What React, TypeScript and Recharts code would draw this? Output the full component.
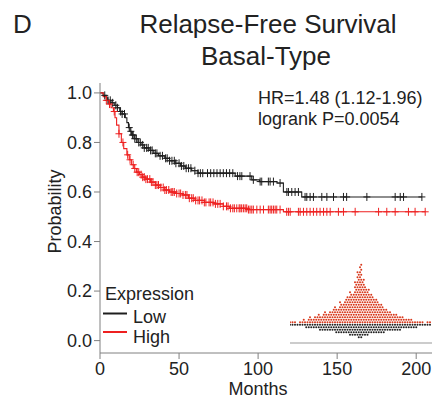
import React from 'react';
import { ComposedChart, ScatterChart, Line, Scatter, XAxis, YAxis, ReferenceLine } from 'recharts';

// Kaplan-Meier steps: [month, survival]
const LOW_STEPS: [number, number][] = [
  [0, 1.0], [2, 0.99], [4, 0.98], [5, 0.97], [7, 0.96], [9, 0.95], [11, 0.94], [12.5, 0.925],
  [14, 0.915], [16, 0.9], [17, 0.88], [18, 0.86], [19, 0.845], [20, 0.83], [22, 0.815], [24, 0.8],
  [26, 0.79], [28, 0.778], [31, 0.768], [34, 0.756], [37, 0.746], [41, 0.736], [44, 0.726],
  [47.5, 0.716], [51, 0.705], [54, 0.696], [58, 0.686], [62, 0.676], [85.5, 0.664], [96, 0.649],
  [101, 0.642], [112, 0.636], [116, 0.6], [127.6, 0.58], [203.6, 0.58],
];

const HIGH_STEPS: [number, number][] = [
  [0, 1.0], [2, 0.985], [4, 0.97], [5.5, 0.955], [7, 0.94], [8.5, 0.925], [9.5, 0.9], [10.5, 0.87],
  [12, 0.835], [13.5, 0.8], [15, 0.775], [17, 0.75], [18.5, 0.73], [20, 0.71], [21.5, 0.695],
  [23, 0.68], [25, 0.67], [27, 0.66], [29, 0.652], [32, 0.64], [35, 0.628], [38, 0.618], [41, 0.608],
  [44, 0.6], [48, 0.594], [52, 0.588], [56, 0.575], [60, 0.566], [66, 0.558], [72, 0.552],
  [78, 0.542], [82, 0.534], [93, 0.529], [116, 0.52], [205.7, 0.52],
];

// censored observations (months)
const LOW_CENSORED = [
  3, 5, 6.5, 8, 10, 11, 13, 14, 15.5, 18.5, 19.5, 20.5, 21, 22, 23, 24.5, 25.5, 27, 28, 29.5, 30.5,
  32, 33, 35, 36, 38, 39.5, 41.5, 42.5, 44, 45.5, 47, 48, 50, 51.5, 53, 54.5, 56, 57.5, 60, 62, 63.5,
  65, 68, 70, 72, 74, 76, 78, 80, 82, 84, 87, 88.5, 89.7, 94.9, 97, 101.3, 102.3, 106.5, 107.6, 109.7,
  113.9, 118.2, 119.2, 121.3, 123.4, 125.5, 129.7, 130.8, 132.9, 135, 140.3, 143.5, 147.7, 154, 156,
  168.8, 186.7, 189.9, 192, 203.6,
];

const HIGH_CENSORED = [
  4, 6, 9, 12, 14.5, 17.5, 19, 21, 22, 23.5, 24.5, 26, 27, 28, 29, 30, 31.5, 32.5, 33.5, 35, 36, 37,
  38.5, 40, 41, 42, 43.5, 45, 46, 47, 48.5, 50, 51, 52.5, 54, 55, 56.5, 58, 59, 60.5, 62, 63, 64.5, 66,
  67, 69, 70, 71.5, 73, 74.5, 76, 78, 80, 81, 82.5, 84, 85, 86.5, 88, 88.6, 89.6, 90.7, 91.8, 92.8,
  93.9, 94.9, 96, 97, 99.2, 101.3, 103.4, 106.5, 107.6, 108.6, 109.7, 110.8, 111.8, 113.9, 118.1,
  119.2, 120.3, 125.5, 126.6, 128.7, 130.8, 132.9, 135, 137.1, 139.2, 141.4, 143.5, 145.6, 150.8, 154,
  161.4, 176.2, 181.4, 186.7, 195.1, 199.3, 205.7,
];

const X_TICKS = [0, 50, 100, 150, 200];
const Y_TICKS = [0, 0.2, 0.4, 0.6, 0.8, 1.0];

// inset: dots per column, below (low) and above (high) the cutoff
const INSET_LOW = [
  1, 1, 1, 1, 1, 1, 2, 2, 2, 2, 2, 2, 3, 3, 3, 3, 3, 3, 4, 4, 4, 4, 4, 4, 5, 5, 5, 6, 6,
  5, 5, 5, 4, 4, 4, 4, 4, 4, 3, 3, 3, 3, 3, 3, 3, 2, 2, 2, 2, 2, 2, 1, 1, 1, 1, 1, 1,
];
const INSET_HIGH = [
  1, 1, 1, 0, 1, 2, 1, 2, 3, 2, 3, 4, 3, 4, 5, 4, 5, 6, 7, 6, 9, 8, 10, 11, 13, 12, 17, 21, 24,
  18, 15, 14, 12, 11, 10, 9, 8, 7, 6, 5, 5, 4, 4, 3, 3, 3, 2, 2, 2, 1, 1, 1, 1, 1, 0, 1, 1,
];

const FONT = '"Liberation Sans", Arial, Helvetica, sans-serif';
const LOW_COLOR = '#1e1e1e';
const HIGH_COLOR = '#ee2020';

const survivalAt = (steps: [number, number][], m: number) => {
  let p = steps[0][1];
  for (const [t, s] of steps) {
    if (t <= m) p = s;
    else break;
  }
  return p;
};

const lowLine = LOW_STEPS.map(([m, p]) => ({ m, p }));
const highLine = HIGH_STEPS.map(([m, p]) => ({ m, p }));
const lowCens = LOW_CENSORED.map((m) => ({ m, p: survivalAt(LOW_STEPS, m) }));
const highCens = HIGH_CENSORED.map((m) => ({ m, p: survivalAt(HIGH_STEPS, m) }));

// swarm-like packing: odd rows shifted half a column
const insetDots = (counts: number[], sign: number) =>
  counts.flatMap((n, i) =>
    Array.from({ length: n }, (_, k) => ({ col: i + (k % 2) * 0.5, row: sign * (k + 0.5) }))
  );

const plus = (color: string) => (props: any) => {
  const { cx, cy } = props;
  return (
    <g stroke={color} strokeWidth={1}>
      <line x1={cx - 3.5} x2={cx + 3.5} y1={cy} y2={cy} />
      <line x1={cx} x2={cx} y1={cy - 4} y2={cy + 4} />
    </g>
  );
};

const dot = (color: string) => (props: any) => <circle cx={props.cx} cy={props.cy} r={1} fill={color} />;

const tickStyle = { fill: '#222', fontSize: 18, fontFamily: FONT };

const App: React.FC = () => {
  return (
    <div style={{ position: 'absolute', left: 0, top: 0, width: 432, height: 401, background: '#fff' }}>
      <ComposedChart width={432} height={401} margin={{ top: 83, right: 0, bottom: 0, left: 0 }}>
        <XAxis
          dataKey="m"
          type="number"
          domain={[0, 210]}
          ticks={X_TICKS}
          allowDataOverflow
          height={48}
          tickSize={6}
          tickMargin={3}
          stroke="#808080"
          tick={tickStyle}
        />
        <YAxis
          type="number"
          domain={[-0.05, 1.04]}
          ticks={Y_TICKS}
          allowDataOverflow
          width={100}
          tickSize={6}
          tickMargin={2}
          stroke="#808080"
          tick={tickStyle}
          tickFormatter={(v: number) => v.toFixed(1)}
        />
        <Line data={lowLine} dataKey="p" type="stepAfter" stroke={LOW_COLOR} strokeWidth={1.1} dot={false} isAnimationActive={false} />
        <Line data={highLine} dataKey="p" type="stepAfter" stroke={HIGH_COLOR} strokeWidth={1.1} dot={false} isAnimationActive={false} />
        <Scatter data={lowCens} dataKey="p" shape={plus(LOW_COLOR)} isAnimationActive={false} />
        <Scatter data={highCens} dataKey="p" shape={plus(HIGH_COLOR)} isAnimationActive={false} />
      </ComposedChart>

      <div style={{ position: 'absolute', left: 290, top: 262 }}>
        <ScatterChart width={142} height={82} margin={{ top: 0, right: 0, bottom: 0, left: 0 }}>
          <XAxis dataKey="col" type="number" domain={[0, 56.8]} hide />
          <YAxis dataKey="row" type="number" domain={[-8.2, 24.6]} hide />
          <ReferenceLine y={-7.8} stroke="#999" strokeWidth={1.2} />
          <Scatter data={insetDots(INSET_LOW, -1)} shape={dot('#222')} isAnimationActive={false} />
          <Scatter data={insetDots(INSET_HIGH, 1)} shape={dot('#d8391c')} isAnimationActive={false} />
        </ScatterChart>
      </div>

      <svg width={432} height={401} style={{ position: 'absolute', left: 0, top: 0, pointerEvents: 'none' }} fontFamily={FONT} fill="#222">
        <text x={13} y={33} fontSize={26}>D</text>
        <text x={268} y={33} fontSize={26} textAnchor="middle">Relapse-Free Survival</text>
        <text x={266} y={65} fontSize={26} textAnchor="middle">Basal-Type</text>
        <text x={258} y={104} fontSize={18}>HR=1.48 (1.12-1.96)</text>
        <text x={258} y={125} fontSize={18}>logrank P=0.0054</text>
        <text transform="translate(61,211.5) rotate(-90)" fontSize={18} textAnchor="middle">Probability</text>
        <text x={258} y={395} fontSize={18} textAnchor="middle">Months</text>
        <text x={105} y={300} fontSize={18}>Expression</text>
        <line x1={103} x2={127} y1={313.5} y2={313.5} stroke={LOW_COLOR} strokeWidth={2} />
        <text x={133} y={323} fontSize={18}>Low</text>
        <line x1={103} x2={127} y1={332} y2={332} stroke={HIGH_COLOR} strokeWidth={2} />
        <text x={133} y={343} fontSize={18}>High</text>
      </svg>
    </div>
  );
};

export default App;
